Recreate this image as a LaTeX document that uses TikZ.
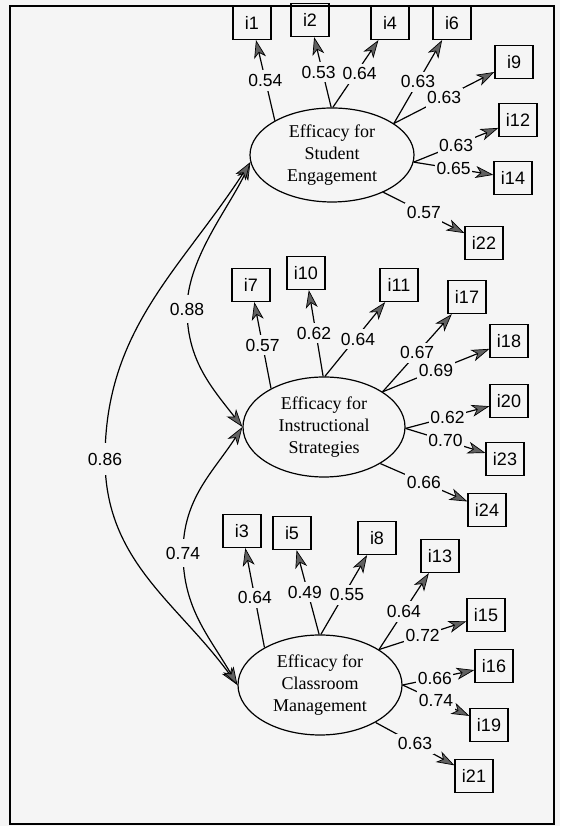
\documentclass[tikz,border=0pt]{standalone}
\usepackage{fontspec}
\setmainfont{Liberation Serif}
\newfontfamily\arialfont{Liberation Sans}
\usetikzlibrary{arrows.meta,shapes.geometric}
\definecolor{bg}{gray}{0.96}
\definecolor{headfill}{gray}{0.38}
\begin{document}
\begin{tikzpicture}[x=1pt,y=1pt,
  lat/.style={ellipse,draw,line width=1.2pt,minimum width=164pt,minimum height=100pt,inner sep=0pt,align=center,font=\fontsize{18}{22}\selectfont},
  obs/.style={rectangle,draw,line width=1.2pt,minimum width=38pt,minimum height=33pt,inner sep=0pt,font=\arialfont\fontsize{18}{20}\selectfont},
  lab/.style={fill=bg,inner xsep=1.5pt,inner ysep=4pt,font=\arialfont\fontsize{17.5}{20}\selectfont},
  load/.style={line width=1.2pt,-{Stealth[length=18pt,width=12pt,inset=5pt,fill=headfill,line width=0.7pt]}},
  cov/.style={line width=1.2pt,{Stealth[length=18pt,width=12pt,inset=5pt,fill=headfill,line width=0.7pt]}-{Stealth[length=18pt,width=12pt,inset=5pt,fill=headfill,line width=0.7pt]}}
]
\useasboundingbox (0,0) rectangle (560,826);
\fill[bg] (0,0) rectangle (560,826);
\draw[line width=1.5pt] (10,2) rectangle (554,820);

% latent variables
\node[lat,minimum height=94pt] (SE) at (332,671) {Efficacy for\\Student\\Engagement};
\node[lat,minimum width=162pt] (IS) at (324,399) {Efficacy for\\Instructional\\Strategies};
\node[lat] (CM) at (320,141) {Efficacy for\\Classroom\\Management};

% items
\node[obs] (i1) at (252,803) {i1};
\node[obs] (i2) at (310,806) {i2};
\node[obs] (i4) at (390,803) {i4};
\node[obs] (i6) at (452,803) {i6};
\node[obs] (i9) at (514,764) {i9};
\node[obs] (i12) at (518,706) {i12};
\node[obs] (i14) at (513,648) {i14};
\node[obs] (i22) at (484,583) {i22};

\node[obs] (i7) at (251,541) {i7};
\node[obs] (i10) at (306,553) {i10};
\node[obs] (i11) at (399,541) {i11};
\node[obs] (i17) at (467,529) {i17};
\node[obs] (i18) at (509,485) {i18};
\node[obs] (i20) at (509,425) {i20};
\node[obs] (i23) at (505,367) {i23};
\node[obs] (i24) at (487,316) {i24};

\node[obs] (i3) at (242,295) {i3};
\node[obs] (i5) at (292,293) {i5};
\node[obs] (i8) at (377,288) {i8};
\node[obs] (i13) at (440,270) {i13};
\node[obs] (i15) at (486,211) {i15};
\node[obs] (i16) at (494,160) {i16};
\node[obs] (i19) at (489,101) {i19};
\node[obs] (i21) at (474,50) {i21};

% loadings: Student Engagement
\draw[load] (SE.149) -- node[lab]{0.54} (i1);
\draw[load] (SE.91) -- node[lab,xshift=-4pt]{0.53} (i2);
\draw[load] (SE.89) -- node[lab,xshift=4pt]{0.64} (i4);
\draw[load] (SE.27) -- node[lab]{0.63} (i6);
\draw[load] (SE.27) -- node[lab]{0.63} (i9);
\draw[load] (SE.-5) -- node[lab]{0.63} (i12);
\draw[load] (SE.-5) -- node[lab]{0.65} (i14);
\draw[load] (SE.-36) -- node[lab]{0.57} (i22);

% loadings: Instructional Strategies
\draw[load] (IS.144) -- node[lab]{0.57} (i7);
\draw[load] (IS.91) -- node[lab,xshift=-2pt]{0.62} (i10);
\draw[load] (IS.89) -- node[lab,xshift=3pt]{0.64} (i11);
\draw[load] (IS.31) -- node[lab]{0.67} (i17);
\draw[load] (IS.31) -- node[lab]{0.69} (i18);
\draw[load] (IS.-1) -- node[lab]{0.62} (i20);
\draw[load] (IS.-1) -- node[lab]{0.70} (i23);
\draw[load] (IS.-33) -- node[lab]{0.66} (i24);

% loadings: Classroom Management
\draw[load] (CM.146) -- node[lab]{0.64} (i3);
\draw[load] (CM.91) -- node[lab,xshift=-3pt]{0.49} (i5);
\draw[load] (CM.89) -- node[lab,xshift=3pt]{0.55} (i8);
\draw[load] (CM.31) -- node[lab]{0.64} (i13);
\draw[load] (CM.31) -- node[lab]{0.72} (i15);
\draw[load] (CM.0) -- node[lab,pos=0.45]{0.66} (i16);
\draw[load] (CM.0) -- node[lab]{0.74} (i19);
\draw[load] (CM.-34) -- node[lab]{0.63} (i21);

% correlations
\coordinate (c88) at (187,517);
\coordinate (c86) at (105,367);
\coordinate (c74) at (183,273);
\draw[cov] (SE.185) to[out=245,in=90,looseness=0.8] (c88) to[out=270,in=128] (IS.180);
\draw[cov] (SE.185) to[out=237,in=90] (c86) to[out=270,in=126] (CM.180);
\draw[cov] (IS.180) to[out=237,in=90] (c74) to[out=270,in=120] (CM.180);
\node[lab,inner ysep=8pt] (l88) at (c88) {0.88};
\node[lab,inner ysep=10pt] (l86) at (c86) {0.86};
\node[lab,inner ysep=8pt] (l74) at (c74) {0.74};
\end{tikzpicture}
\end{document}
